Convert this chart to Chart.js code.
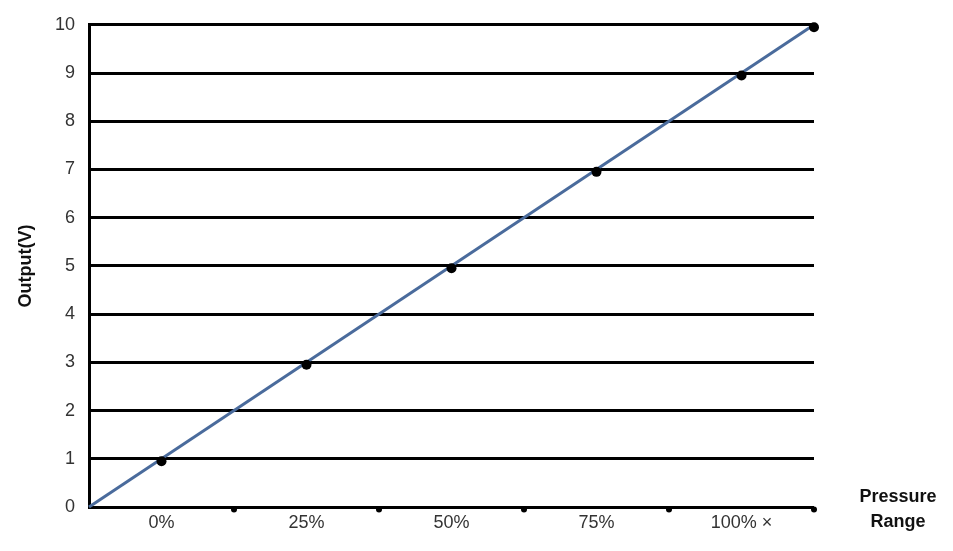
<!DOCTYPE html>
<html>
<head>
<meta charset="utf-8">
<script src="https://cdn.jsdelivr.net/npm/chart.js@4"></script>
<style>
  html, body { margin: 0; padding: 0; background: #fff; }
  #wrap { width: 953px; height: 551px; }
</style>
</head>
<body>
<div id="wrap"><canvas id="myChart" width="953" height="551"></canvas></div>
<script>
// values
var lineX = [0, 10];
var lineY = [0, 10];
var markerX = [1, 3, 5, 7, 9, 10];
var markerY = [0.95, 2.95, 4.95, 6.95, 8.95, 9.95];
var axisDotX = [2, 4, 6, 8, 10];
var axisDotY = [-0.05, -0.05, -0.05, -0.05, -0.05];
var xTickLabels = { 1: "0%", 3: "25%", 5: "50%", 7: "75%", 9: "100% ×" };
var yTicks = [0, 1, 2, 3, 4, 5, 6, 7, 8, 9, 10];

function toPts(xs, ys) {
  var out = [];
  for (var i = 0; i < xs.length; i++) out.push({ x: xs[i], y: ys[i] });
  return out;
}

var FONT = "'Liberation Sans', Arial, sans-serif";

// "Pressure Range" label to the right of the x axis
var sideTitle = {
  id: "sideTitle",
  afterDraw: function (chart) {
    var c = chart.ctx;
    c.save();
    c.font = "bold 18px " + FONT;
    c.fillStyle = "#111";
    c.textAlign = "center";
    c.textBaseline = "middle";
    c.fillText("Pressure", 898, 497);
    c.fillText("Range", 898, 522);
    c.restore();
  }
};

var ctx = document.getElementById("myChart");
var myChart = new Chart(ctx, {
  type: "scatter",
  data: {
    datasets: [
      {
        data: toPts(lineX, lineY),
        order: 3,
        showLine: true,
        borderColor: "#4a6b9c",
        borderWidth: 3,
        pointRadius: 0,
        clip: false
      },
      {
        data: toPts(markerX, markerY),
        order: 1,
        showLine: false,
        pointRadius: 5,
        pointBackgroundColor: "#000",
        pointBorderColor: "#000",
        pointBorderWidth: 0,
        clip: false
      },
      {
        data: toPts(axisDotX, axisDotY),
        order: 2,
        showLine: false,
        pointRadius: 3,
        pointBackgroundColor: "#000",
        pointBorderColor: "#000",
        pointBorderWidth: 0,
        clip: false
      }
    ]
  },
  plugins: [sideTitle],
  options: {
    responsive: false,
    animation: false,
    layout: { padding: { left: 0, right: 139, top: 23, bottom: 0 } },
    plugins: { legend: { display: false }, tooltip: { enabled: false } },
    scales: {
      x: {
        type: "linear",
        min: 0,
        max: 10,
        afterFit: function (s) { s.height = 44; },
        afterBuildTicks: function (s) {
          s.ticks = [1, 3, 5, 7, 9].map(function (v) { return { value: v }; });
        },
        grid: { display: false, drawTicks: false },
        border: { display: false },
        ticks: {
          padding: 5,
          maxRotation: 0,
          autoSkip: false,
          color: "#333",
          font: { family: FONT, size: 18 },
          callback: function (v) { return xTickLabels[v] || ""; }
        }
      },
      y: {
        min: 0,
        max: 10,
        afterFit: function (s) { s.width = 89; },
        afterBuildTicks: function (s) {
          s.ticks = yTicks.map(function (v) { return { value: v }; });
        },
        grid: { color: "#000", lineWidth: 3, drawTicks: false },
        border: { display: true, color: "#000", width: 3 },
        ticks: {
          padding: 14,
          color: "#333",
          font: { family: FONT, size: 18 }
        },
        title: {
          display: true,
          text: "Output(V)",
          color: "#111",
          padding: { top: 15, bottom: 0 },
          font: { family: FONT, size: 18, weight: "bold" }
        }
      }
    }
  }
});
</script>
</body>
</html>
